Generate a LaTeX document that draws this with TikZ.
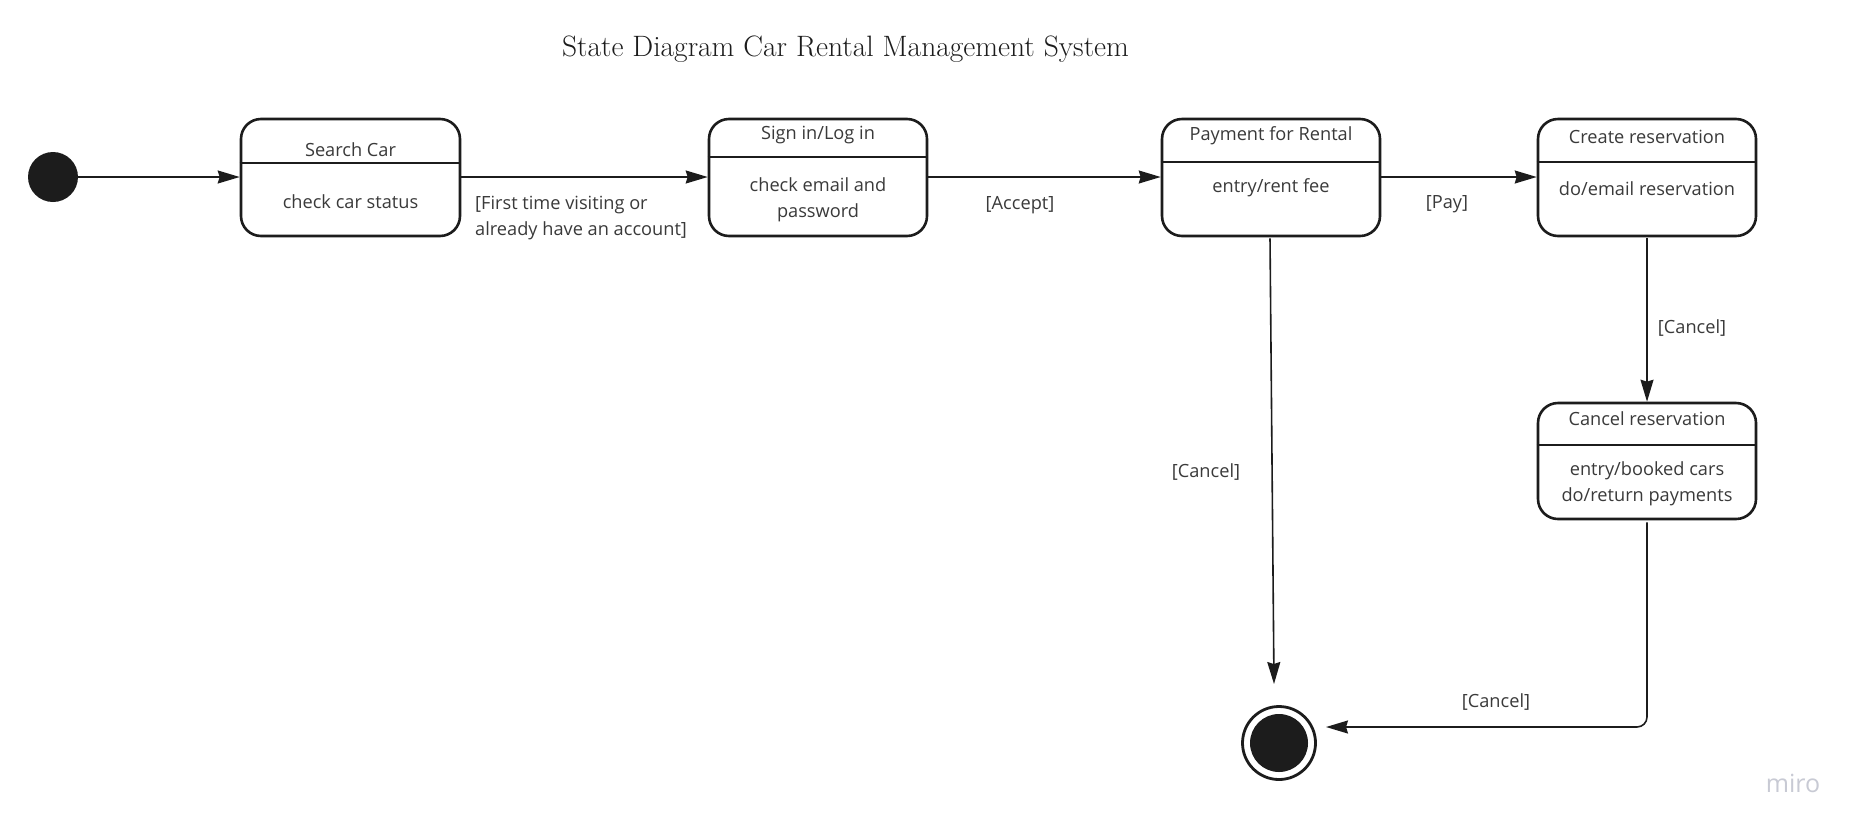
\documentclass[tikz,border=0pt]{standalone}
\usepackage{fontspec}
\setsansfont{Open Sans}
\usetikzlibrary{arrows.meta,calc}
\definecolor{ink}{HTML}{1C1C1C}
\definecolor{txt}{HTML}{3A3A3A}
\definecolor{wm}{HTML}{C8CAD4}
\tikzset{
  statebox/.style={draw=ink, line width=2.6pt, rounded corners=20pt, minimum width=218pt, minimum height=117pt, inner sep=0pt},
  divider/.style={draw=ink, line width=1.6pt},
  bodytxt/.style={font=\sffamily\fontsize{18.2}{25.5}\selectfont, text=txt, align=center, inner sep=0pt},
  lbltxt/.style={font=\sffamily\fontsize{18.2}{26}\selectfont, text=txt, inner sep=0pt},
  conn/.style={draw=ink, line width=1.6pt, -{Stealth[length=22pt,width=13pt,inset=2pt]}},
}
\begin{document}
\begin{tikzpicture}[x=1pt,y=-1pt]
\fill[white] (0,0) rectangle (1867,836);
\useasboundingbox (0,0) rectangle (1867,836);

% title
\node[font=\fontsize{29.5}{32}\selectfont, text=ink, inner sep=0pt] (title) at (845.5,49) {State Diagram Car Rental Management System};

% initial state
\node[circle, fill=ink, minimum size=50pt, inner sep=0pt] (init) at (53,177) {};

% states
\node[statebox, minimum width=219pt] (search) at (350.5,177.5) {};
\draw[divider] (search.west |- 0,163) -- (search.east |- 0,163);
\node[bodytxt] (searchH) at (350.5,150) {Search Car};
\node[bodytxt] (searchB) at (350.5,201.5) {check car status};

\node[statebox] (signin) at (818,177.5) {};
\draw[divider] (signin.west |- 0,157) -- (signin.east |- 0,157);
\node[bodytxt] (signinH) at (818,135.5) {Sign in/Log in};
\node[bodytxt] (signinB) at (818,200) {check email and\\password};

\node[statebox] (pay) at (1271,177.5) {};
\draw[divider] (pay.west |- 0,162) -- (pay.east |- 0,162);
\node[bodytxt] (payH) at (1271,135.5) {Payment for Rental};
\node[bodytxt] (payB) at (1271,188) {entry/rent fee};

\node[statebox] (create) at (1647,177.5) {};
\draw[divider] (create.west |- 0,162) -- (create.east |- 0,162);
\node[bodytxt] (createH) at (1647,137) {Create reservation};
\node[bodytxt] (createB) at (1647,189) {do/email reservation};

\node[statebox, minimum height=116pt] (cancel) at (1647,461) {};
\draw[divider] (cancel.west |- 0,445) -- (cancel.east |- 0,445);
\node[bodytxt] (cancelH) at (1647,419) {Cancel reservation};
\node[bodytxt] (cancelB) at (1647,484) {entry/booked cars\\do/return payments};

% final state
\node[circle, draw=ink, line width=2.8pt, minimum size=73pt, inner sep=0pt] (final) at (1279,743) {};
\node[circle, fill=ink, minimum size=58pt, inner sep=0pt] (finalin) at (1279,743) {};

% connectors
\coordinate (payend) at (1274,684);
\coordinate (finend) at (1326,727);
\draw[conn] (init.east) -- (search.west |- init.east);
\draw[conn] (search.east |- 0,177) -- (signin.west |- 0,177);
\draw[conn] (signin.east |- 0,177) -- (pay.west |- 0,177);
\draw[conn] (pay.east |- 0,177) -- (create.west |- 0,177);
\draw[conn] ($(pay.south)+(-1,1)$) -- (payend);
\draw[conn] ($(create.south)+(0,1)$) -- (cancel.north);
\draw[conn, rounded corners=10pt] ($(cancel.south)+(0,2)$) |- (finend);

% labels
\node[lbltxt, anchor=west, align=left] (lfirst) at (475,218.5) {[First time visiting or\\already have an account]};
\node[lbltxt] (laccept) at (1020,205) {[Accept]};
\node[lbltxt] (lpay) at (1447,204) {[Pay]};
\node[lbltxt] (lcancel1) at (1692,328) {[Cancel]};
\node[lbltxt] (lcancel2) at (1206,472) {[Cancel]};
\node[lbltxt] (lcancel3) at (1496,702) {[Cancel]};

% watermark
\node[font=\sffamily\fontsize{25}{25}\selectfont, text=wm, inner sep=0pt] (miro) at (1793,783) {miro};
\end{tikzpicture}
\end{document}
